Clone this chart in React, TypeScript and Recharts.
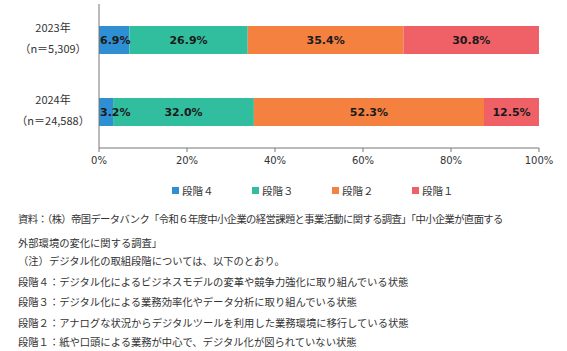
import { BarChart, Bar, XAxis, YAxis, Legend, LabelList } from 'recharts';

const years = ['2023年', '2024年'];
const sampleSizes = ['（n＝5,309）', '（n＝24,588）'];
const stage4 = [6.9, 3.2];
const stage3 = [26.9, 32.0];
const stage2 = [35.4, 52.3];
const stage1 = [30.8, 12.5];
const xTicks = [0, 20, 40, 60, 80, 100];

const seriesNames = ['段階４', '段階３', '段階２', '段階１'];
const seriesColors = ['#2E8FD2', '#31BE9F', '#F4813F', '#EF6167'];
const seriesKeys = ['s4', 's3', 's2', 's1'];

const notes = [
  '資料：（株）帝国データバンク「令和６年度中小企業の経営課題と事業活動に関する調査」「中小企業が直面する',
  '外部環境の変化に関する調査」',
  '（注）デジタル化の取組段階については、以下のとおり。',
  '段階４：デジタル化によるビジネスモデルの変革や競争力強化に取り組んでいる状態',
  '段階３：デジタル化による業務効率化やデータ分析に取り組んでいる状態',
  '段階２：アナログな状況からデジタルツールを利用した業務環境に移行している状態',
  '段階１：紙や口頭による業務が中心で、デジタル化が図られていない状態',
];
const noteTops = [212, 236, 254, 275, 295, 316, 335];

const chartData = years.map((year, i) => ({
  year,
  n: sampleSizes[i],
  s4: stage4[i],
  s3: stage3[i],
  s2: stage2[i],
  s1: stage1[i],
}));

const jpFont = '"Noto Sans CJK JP", "Noto Sans", sans-serif';
const labelStyle = { fontSize: 11, fontWeight: 'bold', fill: '#1a1a1a', fontFamily: 'DejaVu Sans' };

function YearTick(props: any) {
  const { y, payload, index } = props;
  return (
    <g>
      <text x={53} y={y - 12} dy="0.35em" textAnchor="middle" fontSize={11} fill="#333" fontFamily={jpFont}>
        {payload.value}
      </text>
      <text x={53} y={y + 9.5} dy="0.35em" textAnchor="middle" fontSize={11} fill="#333" fontFamily={jpFont}>
        {sampleSizes[index]}
      </text>
    </g>
  );
}

function StageLegend() {
  return (
    <div style={{ display: 'flex', paddingLeft: 172, height: 16, alignItems: 'center' }}>
      {seriesNames.map((name, i) => (
        <div key={name} style={{ width: 80, display: 'flex', alignItems: 'center' }}>
          <span style={{ width: 7, height: 7, background: seriesColors[i], display: 'inline-block', marginRight: 3 }} />
          <span style={{ fontSize: 10.5, color: '#333', fontFamily: jpFont }}>{name}</span>
        </div>
      ))}
    </div>
  );
}

export default function App() {
  return (
    <div style={{ position: 'absolute', left: 0, top: 0, width: 567, height: 351, background: '#fff' }}>
      <BarChart
        width={567}
        height={200}
        data={chartData}
        layout="vertical"
        margin={{ top: 4, right: 28, left: 0, bottom: 2 }}
      >
        <XAxis
          type="number"
          domain={[0, 100]}
          ticks={xTicks}
          tickFormatter={(v) => `${v}%`}
          tick={{ fontSize: 10, fill: '#333', fontFamily: 'DejaVu Sans' }}
          tickSize={4}
          tickMargin={5}
          height={34}
          stroke="#777"
        />
        <YAxis
          type="category"
          dataKey="year"
          width={99}
          tickLine={false}
          tick={<YearTick />}
          stroke="#777"
        />
        <Legend verticalAlign="bottom" content={<StageLegend />} />
        {seriesKeys.map((key, i) => (
          <Bar
            key={key}
            dataKey={key}
            name={seriesNames[i]}
            stackId="a"
            fill={seriesColors[i]}
            barSize={28}
            isAnimationActive={false}
          >
            <LabelList
              dataKey={key}
              position={key === 's4' ? 'insideLeft' : 'center'}
              offset={1}
              formatter={(v: any) => `${Number(v).toFixed(1)}%`}
              style={labelStyle}
            />
          </Bar>
        ))}
      </BarChart>
      {notes.map((line, i) => (
        <div
          key={i}
          style={{
            position: 'absolute',
            left: 18,
            top: noteTops[i],
            fontSize: 10.3,
            letterSpacing: i === 0 ? -0.6 : 0,
            lineHeight: '14px',
            color: '#333',
            fontFamily: jpFont,
            whiteSpace: 'nowrap',
          }}
        >
          {line}
        </div>
      ))}
    </div>
  );
}
